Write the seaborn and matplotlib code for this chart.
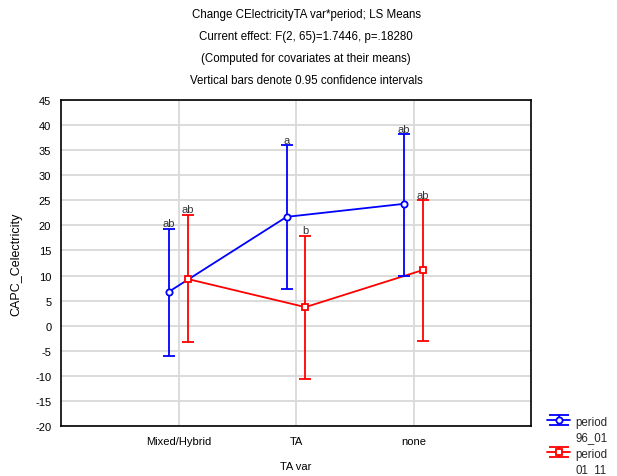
import matplotlib
matplotlib.use("Agg")
import matplotlib.pyplot as plt
from matplotlib.legend_handler import HandlerErrorbar
from matplotlib.transforms import Affine2D
import seaborn as sns
import pandas as pd
import numpy as np

categories = ["Mixed/Hybrid", "TA", "none"]
periods = ["period\n96_01", "period\n01_11"]
means_96 = [6.8, 21.7, 24.3]
lower_96 = [-6.1, 7.4, 10.0]
upper_96 = [19.3, 36.0, 38.2]
means_01 = [9.3, 3.7, 11.1]
lower_01 = [-3.3, -10.6, -3.1]
upper_01 = [22.1, 17.9, 25.0]
letters_96 = ["ab", "a", "ab"]
letters_01 = ["ab", "b", "ab"]
yticks = list(range(-20, 50, 5))


class TopHandler(HandlerErrorbar):
    def __init__(self, shift, **kw):
        super().__init__(**kw)
        self.shift = shift

    def create_artists(self, legend, orig_handle, xdescent, ydescent, width, height, fontsize, trans):
        artists = super().create_artists(legend, orig_handle, xdescent, ydescent, width, height, fontsize, trans)
        t = Affine2D().translate(0, self.shift) + trans
        for a in artists:
            a.set_transform(t)
        return artists


sns.set_theme(style="white")
plt.rcParams['font.family'] = ['Liberation Sans', 'DejaVu Sans']

fig = plt.figure(figsize=(6.17, 4.77), dpi=100)
ax = fig.add_axes([61/617, 1-427/477, (531-61)/617, (427-101)/477])

colors = ["#0000ff", "#ff0000"]
markers = ["o", "s"]
offsets = [-0.08, 0.08]
series = [(means_96, lower_96, upper_96, letters_96), (means_01, lower_01, upper_01, letters_01)]

rows = []
for p, (m, lo, hi, lt), off in zip(periods, series, offsets):
    for i, c in enumerate(categories):
        rows.append(dict(period=p, cat=c, xpos=i + off, mean=m[i], lo=lo[i], hi=hi[i], letter=lt[i]))
df = pd.DataFrame(rows)

sns.lineplot(data=df, x="xpos", y="mean", hue="period", palette=colors, sort=True,
             legend=False, ax=ax, linewidth=1.3, estimator=None, errorbar=None)

handles = []
for p, col, mk in zip(periods, colors, markers):
    sub = df[df.period == p]
    yerr = np.vstack([sub["mean"] - sub["lo"], sub["hi"] - sub["mean"]])
    ax.errorbar(sub["xpos"], sub["mean"], yerr=yerr, fmt=mk, color=col, ecolor=col,
                mfc="white", mec=col, mew=1.3, ms=4.5, elinewidth=1.3, capsize=4.3,
                capthick=1.3, zorder=3)
    h = ax.errorbar([np.nan], [np.nan], yerr=[[1], [1]], fmt="-" + mk, color=col, ecolor=col,
                    mfc="white", mec=col, mew=1.3, ms=4.5, lw=1.3, elinewidth=1.3,
                    capsize=7, capthick=1.3)
    handles.append(h)
    for _, r in sub.iterrows():
        ax.text(r["xpos"], r["hi"] + 0.1, r["letter"], ha="center", va="bottom",
                fontsize=8, color="#333333")

ax.set_xlim(-1, 3)
ax.set_ylim(-20, 45)
ax.set_xticks(range(len(categories)))
ax.set_xticklabels(categories, fontsize=8)
ax.set_yticks(yticks)
ax.set_yticklabels([str(t) for t in yticks], fontsize=8)
ax.grid(True, color="#d9d9d9", linewidth=1.3)
ax.set_axisbelow(True)
for s in ax.spines.values():
    s.set_color("black")
    s.set_linewidth(1.2)
ax.tick_params(axis="both", direction="in", length=4, width=1, color="black", pad=7, labelcolor="black")
ax.set_xlabel("TA var", fontsize=8, labelpad=11, color="black")
ax.set_ylabel("CAPC_Celectricity", fontsize=9, labelpad=9, color="black")

title = ("Change CElectricityTA var*period; LS Means\n"
         "Current effect: F(2, 65)=1.7446, p=.18280\n"
         "(Computed for covariates at their means)\n"
         "Vertical bars denote 0.95 confidence intervals")
fig.text(306/617, 1-9/477, title, ha="center", va="top", fontsize=8.3, linespacing=2.1, color="black")

hmap = {h: TopHandler(shift=7.0, xerr_size=0.5, yerr_size=0.45) for h in handles}
leg = fig.legend(handles=handles, labels=periods, loc="lower left", handler_map=hmap,
                 bbox_to_anchor=(537/617, -0.02), frameon=False, fontsize=8.3,
                 handlelength=2.0, handleheight=0.9, handletextpad=0.4, labelspacing=0.42)
for t in leg.get_texts():
    t.set_linespacing(1.35)

fig.savefig("out.png", dpi=100)
